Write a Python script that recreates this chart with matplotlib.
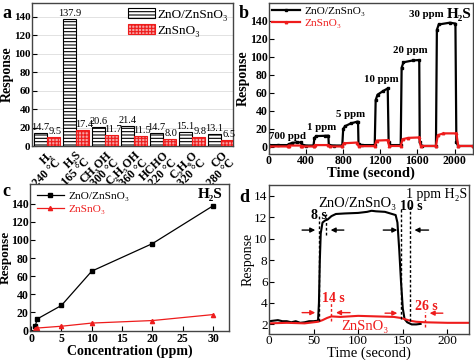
import numpy as np
import matplotlib
matplotlib.use("Agg")
import matplotlib.pyplot as plt

plt.rcParams['font.family'] = ['Liberation Serif', 'DejaVu Serif']
plt.rcParams['hatch.linewidth'] = 0.8
plt.rcParams['axes.linewidth'] = 1.0
plt.rcParams['axes.edgecolor'] = '#444444'

RED = '#ee1c1c'

# ---- panel a: selectivity bars
gases = ['H₂\n240 °C', 'H₂S\n165 °C', 'CH₃OH\n300 °C', 'C₂H₅OH\n360 °C',
         'HCHO\n220 °C', 'C₃H₆O\n320 °C', 'CO\n280 °C']
resp_composite = [14.7, 137.9, 20.6, 21.4, 14.7, 15.1, 13.1]
resp_znsno3 = [9.5, 17.4, 11.7, 11.5, 8.0, 9.8, 6.5]

# ---- panel b: dynamic response, H2S 700 ppb .. 30 ppm
b_t_black = [0, 100, 200, 215, 250, 300, 340, 355, 400, 480, 490, 510, 600, 640, 645, 700,
             790, 800, 820, 880, 950, 960, 965, 1000, 1140, 1150, 1170, 1230, 1280, 1290,
             1300, 1420, 1430, 1450, 1550, 1620, 1625, 1650, 1800, 1810, 1830, 1950, 2010,
             2020, 2040, 2200]
b_v_black = [2, 2, 2, 3, 4.5, 5, 5, 2.5, 1.5, 1.5, 10, 12, 12.3, 12.5, 2, 1.5,
             1.5, 20, 23, 26, 28, 28, 3, 2, 2, 52, 58, 62, 65, 5,
             2, 2, 88, 94, 96, 96.5, 5, 1, 1, 130, 136, 138, 137,
             5, 1, 1]
b_t_red = [0, 200, 215, 340, 355, 480, 495, 640, 655, 790, 805, 950, 965, 1140, 1160, 1280,
           1295, 1420, 1440, 1500, 1620, 1635, 1800, 1820, 1880, 2020, 2040, 2200]
b_v_red = [0.5, 0.5, 1.5, 1.5, 0.5, 0.5, 2, 2, 0.5, 0.5, 4, 4.8, 0.8, 0.8, 7, 7.5,
           1, 1, 8.5, 10, 10.5, 1, 1, 13, 15, 15, 1, 1]
b_notes = ['700 ppd', '1 ppm', '5 ppm', '10 ppm', '20 ppm', '30 ppm']
b_note_x = [200, 570, 875, 1210, 1520, 1700]
b_note_y = [12, 22, 36, 75, 107, 147]

# ---- panel c: response vs concentration
conc = [0.7, 1, 5, 10, 20, 30]
c_black = [5, 12.5, 27.5, 65.5, 96, 137.9]
c_red = [1.8, 2.5, 4.5, 8, 10.8, 17.4]

# ---- panel d: 1 ppm response/recovery
d_t_black = [0, 5, 10, 15, 20, 25, 30, 35, 40, 45, 50, 55, 56, 57, 58, 60, 63, 66, 70, 75,
             85, 100, 110, 115, 120, 130, 138, 142, 144, 146, 148, 150, 152, 155, 160, 165, 170]
d_v_black = [2.3, 2.35, 2.4, 2.3, 2.3, 2.2, 2.3, 2.15, 2.2, 2.3, 2.3, 2.35, 4, 8, 10.5, 11.5,
             11.7, 11.8, 12.1, 12.3, 12.35, 12.4, 12.5, 12.6, 12.55, 12.5, 12.3, 12.2, 11.5,
             9, 6, 3.5, 2.5, 2.2, 2.0, 2.0, 2.05]
d_t_red = [0, 20, 40, 55, 60, 65, 70, 80, 100, 120, 140, 148, 152, 158, 165, 175, 200, 224]
d_v_red = [2.1, 2.15, 2.1, 2.25, 2.4, 2.6, 2.75, 2.7, 2.8, 2.75, 2.7, 2.6, 2.5, 2.35, 2.25,
           2.2, 2.15, 2.15]

fig = plt.figure(figsize=(4.74, 3.6), dpi=100)

# ================= a
ax = fig.add_axes([0.0675, 0.594, 0.424, 0.398])
x = np.arange(len(gases))
w = 0.45
ax.bar(x - w / 2, resp_composite, w, facecolor='white', edgecolor='black', hatch='-----',
       lw=0.8, label='ZnO/ZnSnO₃', zorder=3)
ax.bar(x + w / 2, resp_znsno3, w, facecolor='#f6a3a3', edgecolor=RED, hatch='+++++',
       lw=0.8, label='ZnSnO₃', zorder=3)
for i in range(len(gases)):
    ax.text(x[i] - w / 2, resp_composite[i] + 1, f'{resp_composite[i]:.1f}', ha='center',
            va='bottom', fontsize=7.5)
    ax.text(x[i] + w / 2 + 0.05, resp_znsno3[i] + 1, f'{resp_znsno3[i]:.1f}', ha='center',
            va='bottom', fontsize=7.5)
ax.set_xlim(-0.52, 6.41)
ax.set_ylim(0, 155)
ax.set_yticks(range(0, 141, 20))
ax.yaxis.grid(True, color='#dddddd', lw=0.6, zorder=0)
ax.set_axisbelow(True)
ax.set_xticks(x)
ax.set_xticklabels(gases, rotation=45, ha='right', rotation_mode='anchor', fontsize=8.5,
                   fontweight='bold', linespacing=0.8)
ax.tick_params(axis='x', length=0, pad=2)
ax.tick_params(axis='y', direction='in', labelsize=8, pad=1)
for lab in ax.get_yticklabels():
    lab.set_fontweight('bold')
ax.set_ylabel('Response', fontsize=10, fontweight='bold', labelpad=0)
ax.legend(loc='upper right', frameon=False, fontsize=9.5, handlelength=2.0, handleheight=0.8,
          borderpad=0.2, labelspacing=0.25, handletextpad=0.2, borderaxespad=0.2)
fig.text(0.006, 0.95, 'a', fontsize=13, fontweight='bold')

# ================= b
ax = fig.add_axes([0.5675, 0.572, 0.4305, 0.42])
ax.plot(b_t_black, b_v_black, '-s', color='black', lw=1.6, ms=1.8, label='ZnO/ZnSnO₃')
ax.plot(b_t_red, b_v_red, '-^', color=RED, lw=1.6, ms=1.8, label='ZnSnO₃')
ax.set_xlim(0, 2200)
ax.set_ylim(-8, 160)
ax.set_xticks(range(0, 2001, 400))
ax.set_yticks(range(0, 141, 20))
ax.tick_params(direction='in', labelsize=8.5, pad=1)
for lab in ax.get_xticklabels() + ax.get_yticklabels():
    lab.set_fontweight('bold')
ax.set_xlabel('Time (second)', fontsize=10.5, fontweight='bold', labelpad=-1)
ax.set_ylabel('Response', fontsize=10, fontweight='bold', labelpad=0)
for s, nx, ny in zip(b_notes, b_note_x, b_note_y):
    ax.text(nx, ny, s, ha='center', va='center', fontsize=7.8, fontweight='bold')
ax.text(2180, 147, 'H₂S', ha='right', va='center', fontsize=11, fontweight='bold')
leg = ax.legend(loc='upper left', frameon=False, fontsize=8.2, handlelength=2.4,
                borderpad=0.1, labelspacing=0.15, handletextpad=0.4, borderaxespad=0.2)
leg.get_texts()[1].set_color(RED)
fig.text(0.504, 0.95, 'b', fontsize=13, fontweight='bold')

# ================= c
ax = fig.add_axes([0.063, 0.08, 0.42, 0.409])
ax.plot(conc, c_black, '-s', color='black', lw=0.9, ms=3, label='ZnO/ZnSnO₃')
ax.plot(conc, c_red, '-^', color=RED, lw=0.9, ms=3, label='ZnSnO₃')
ax.set_xlim(-0.2, 32.6)
ax.set_ylim(-1, 162)
ax.set_xticks(range(0, 31, 5))
ax.set_yticks(range(0, 141, 20))
ax.tick_params(direction='in', labelsize=8.5, pad=1)
for lab in ax.get_xticklabels() + ax.get_yticklabels():
    lab.set_fontweight('bold')
ax.set_xlabel('Concentration (ppm)', fontsize=10, fontweight='bold', labelpad=0)
ax.set_ylabel('Response', fontsize=9.5, fontweight='bold')
ax.yaxis.set_label_coords(-0.092, 0.5)
ax.text(31.5, 150, 'H₂S', ha='right', va='center', fontsize=11, fontweight='bold')
leg = ax.legend(loc='upper left', frameon=False, fontsize=8.2, handlelength=2.4,
                borderpad=0.3, labelspacing=0.25, handletextpad=0.4, borderaxespad=0.3)
leg.get_texts()[1].set_color(RED)
fig.text(0.004, 0.456, 'c', fontsize=13, fontweight='bold')

# ================= d
ax = fig.add_axes([0.5675, 0.072, 0.4215, 0.414])
ax.plot(d_t_black, d_v_black, '-', color='black', lw=1.5)
ax.plot(d_t_red, d_v_red, '-', color=RED, lw=1.5)
ax.set_xlim(0, 224)
ax.set_ylim(1.1, 15)
ax.set_xticks(range(0, 201, 50))
ax.set_yticks(range(2, 15, 2))
ax.tick_params(direction='in', labelsize=9.5, pad=1)
ax.set_xlabel('Time (second)', fontsize=10.5, labelpad=-1)
ax.set_ylabel('Response', fontsize=10, labelpad=0)
# response / recovery markers
for xv, y0, y1 in [(56, 2.3, 12.3), (64, 10.3, 12.3), (148, 2.5, 12.8), (158, 2.3, 13.0)]:
    ax.plot([xv, xv], [y0, y1], ls=(0, (2, 1.5)), color='black', lw=1.0)
for xv, y0, y1 in [(70, 2.3, 4.2), (175, 1.8, 3.2)]:
    ax.plot([xv, xv], [y0, y1], ls=(0, (2, 1.5)), color=RED, lw=1.0)
arr = dict(arrowstyle='-|>', lw=1.0, mutation_scale=7)
ax.annotate('', xy=(55, 10.8), xytext=(34, 10.8), arrowprops=dict(arr, color='black'))
ax.annotate('', xy=(66, 10.8), xytext=(87, 10.8), arrowprops=dict(arr, color='black'))
ax.annotate('', xy=(147, 10.8), xytext=(125, 10.8), arrowprops=dict(arr, color='black'))
ax.annotate('', xy=(160, 10.8), xytext=(182, 10.8), arrowprops=dict(arr, color='black'))
ax.annotate('', xy=(55, 3.1), xytext=(34, 3.1), arrowprops=dict(arr, color=RED))
ax.annotate('', xy=(72, 3.1), xytext=(94, 3.1), arrowprops=dict(arr, color=RED))
ax.annotate('', xy=(147, 3.05), xytext=(127, 3.05), arrowprops=dict(arr, color=RED))
ax.annotate('', xy=(177, 3.05), xytext=(198, 3.05), arrowprops=dict(arr, color=RED))
ax.text(56, 12.2, '8 s', ha='center', va='center', fontsize=10, fontweight='bold')
ax.text(160, 13.0, '10 s', ha='center', va='center', fontsize=10, fontweight='bold')
ax.text(72, 4.4, '14 s', ha='center', va='center', fontsize=10, fontweight='bold', color=RED)
ax.text(176, 3.7, '26 s', ha='center', va='center', fontsize=10, fontweight='bold', color=RED)
ax.text(99, 13.3, 'ZnO/ZnSnO₃', ha='center', va='center', fontsize=10.5)
ax.text(222, 14.1, '1 ppm H₂S', ha='right', va='center', fontsize=10)
ax.text(108, 1.85, 'ZnSnO₃', ha='center', va='center', fontsize=10.5, color=RED)
fig.text(0.504, 0.439, 'd', fontsize=13, fontweight='bold')

fig.savefig('out.png', dpi=100)
